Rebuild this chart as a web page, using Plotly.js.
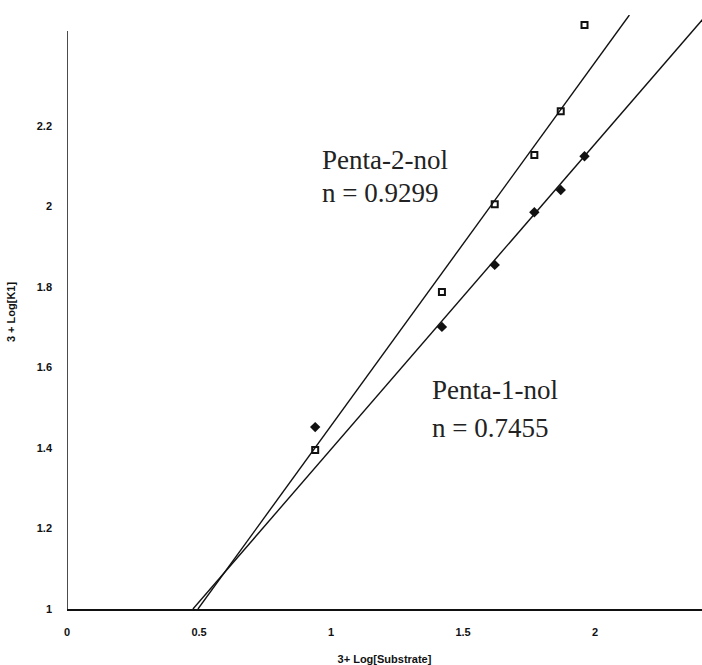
<!DOCTYPE html>
<html>
<head>
<meta charset="utf-8">
<script src="https://cdn.plot.ly/plotly-3.0.1.min.js"></script>
<style>html,body{margin:0;padding:0;background:#fff;}#chart{width:702px;height:665px;}</style>
</head>
<body>
<div id="chart"></div>
<script>
// Data
const substrate = [0.94, 1.42, 1.62, 1.77, 1.87, 1.96];
const penta2nol = [1.395, 1.788, 2.006, 2.128, 2.237, 2.451];
const penta1nol = [1.452, 1.701, 1.855, 1.986, 2.041, 2.125];
// fitted lines (end points)
const fit2X = [0.496, 2.13];
const fit2Y = [1.0, 2.476];
const fit1X = [0.477, 2.41];
const fit1Y = [1.0, 2.467];
const xTicks = [0, 0.5, 1, 1.5, 2];
const yTicks = [1, 1.2, 1.4, 1.6, 1.8, 2, 2.2];
const xTitle = '3+ Log[Substrate]';
const yTitle = '3 + Log[K1]';
const labels = [
  {text: 'Penta-2-nol', x: 0.398, y: 0.756},
  {text: 'n = 0.9299', x: 0.398, y: 0.700},
  {text: 'Penta-1-nol', x: 0.571, y: 0.369},
  {text: 'n = 0.7455', x: 0.571, y: 0.305}
];

const traces = [
  {x: fit2X, y: fit2Y, mode: 'lines', line: {color: '#111', width: 1.4}, hoverinfo: 'skip'},
  {x: fit1X, y: fit1Y, mode: 'lines', line: {color: '#111', width: 1.4}, hoverinfo: 'skip'},
  {x: substrate, y: penta2nol, mode: 'markers', name: 'Penta-2-nol', cliponaxis: false,
   marker: {symbol: 'square-open', size: 6, color: '#111', line: {width: 2, color: '#111'}}},
  {x: substrate, y: penta1nol, mode: 'markers', name: 'Penta-1-nol', cliponaxis: false,
   marker: {symbol: 'diamond', size: 8, color: '#111', line: {width: 0}}}
];

const tickFont = {family: 'Liberation Sans, Arial, sans-serif', size: 11, color: '#111', weight: 'bold'};

const layout = {
  width: 702, height: 665,
  margin: {l: 67, r: 0, t: 15, b: 56},
  paper_bgcolor: '#fff', plot_bgcolor: '#fff',
  showlegend: false,
  xaxis: {
    range: [0, 2.405], tickvals: xTicks, ticktext: xTicks.map(String),
    showgrid: false, zeroline: false, showline: true, linecolor: '#111', linewidth: 1.5,
    ticks: '', ticklabelstandoff: 12, tickfont: tickFont,
    title: {text: xTitle, font: tickFont, standoff: 18}
  },
  yaxis: {
    range: [1, 2.476], tickvals: yTicks, ticktext: yTicks.map(String),
    showgrid: false, zeroline: false, showline: false,
    ticks: '', ticklabelstandoff: 14, tickfont: tickFont,
    title: {text: yTitle, font: tickFont, standoff: 18}
  },
  shapes: [
    {type: 'line', xref: 'x', yref: 'y', x0: 0, x1: 0, y0: 1, y1: 2.436, line: {color: '#111', width: 1.5}}
  ],
  annotations: labels.map(l => ({
    text: l.text, xref: 'paper', yref: 'paper', x: l.x, y: l.y,
    xanchor: 'left', yanchor: 'middle', showarrow: false,
    font: {family: 'Liberation Serif, Times New Roman, serif', size: 27, color: '#222'}
  }))
};

Plotly.newPlot('chart', traces, layout, {displayModeBar: false, staticPlot: true});
</script>
</body>
</html>
